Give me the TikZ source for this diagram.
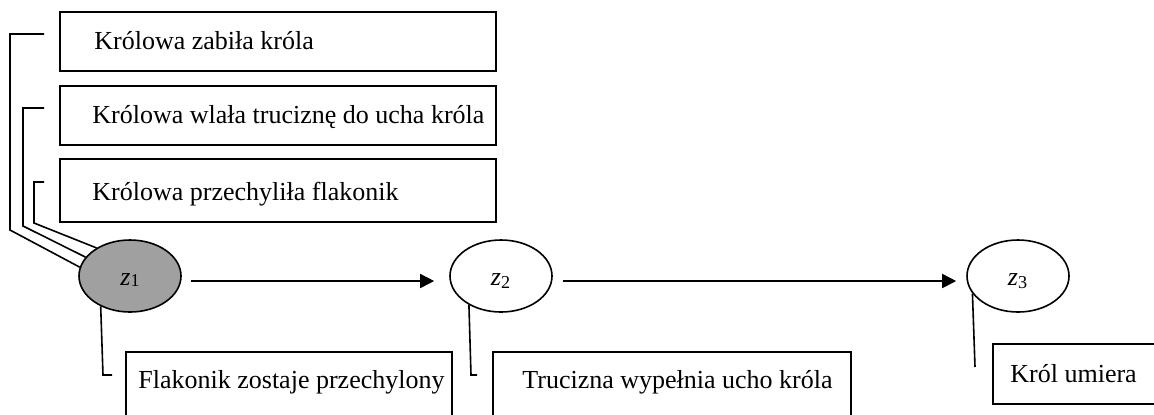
\documentclass[tikz,border=0pt]{standalone}
\usepackage{fontspec}
\setmainfont{Liberation Serif}
\usetikzlibrary{arrows.meta,calc,shapes.geometric}
\definecolor{stategray}{RGB}{160,160,160}
\newcommand{\zlab}[1]{\raisebox{-4.5pt}[0pt][0pt]{#1}}
\tikzset{
  lin/.style={line width=0.8pt},
  box/.style={draw,lin,rectangle,anchor=north west,inner sep=0pt},
  txt/.style={anchor=base west,inner sep=0pt,font=\fontsize{13}{15}\selectfont},
  state/.style={draw,lin,ellipse,minimum width=51pt,minimum height=36pt,inner sep=0pt,font=\fontsize{13}{15}\selectfont},
  arr/.style={lin,-{Triangle[length=7pt,width=7pt]}},
  conn/.style={lin,line join=miter}
}
\begin{document}
\begin{tikzpicture}[x=0.5pt,y=-0.5pt]
\useasboundingbox (0,0) rectangle (1154,414);
\clip (0,0) rectangle (1154,414);
% top boxes
\node[box,minimum width=218pt,minimum height=29.5pt] (b1) at (59,11) {};
\node[box,minimum width=218pt,minimum height=29.5pt] (b2) at (59,85) {};
\node[box,minimum width=218pt,minimum height=31.5pt] (b3) at (59,158) {};
\node[txt] (t1) at (94,49) {Królowa zabiła króla};
\node[txt] (t2) at (92,123) {Królowa wlała truciznę do ucha króla};
\node[txt] (t3) at (92,200) {Królowa przechyliła flakonik};
% bottom boxes
\node[box,minimum width=163pt,minimum height=50pt] (b4) at (125,351) {};
\node[box,minimum width=179pt,minimum height=50pt] (b5) at (492,351) {};
\node[box,minimum width=81pt,minimum height=30pt] (b6) at (992,343) {};
\node[txt] (t4) at (138,388) {Flakonik zostaje przechylony};
\node[txt] (t5) at (522,388) {Trucizna wypełnia ucho króla};
\node[txt] (t6) at (1010,382) {Król umiera};
% states
\node[state,fill=stategray] (z1) at (130,276) {\zlab{\textit{z}\raisebox{-0.1ex}{\fontsize{9}{10}\selectfont 1}}};
\node[state] (z2) at (501,276) {\zlab{\textit{z}\textsubscript{2}}};
\node[state] (z3) at (1018,276) {\zlab{\textit{z}\textsubscript{3}}};
% arrows
\draw[arr] ($(z1.east)+(9,5)$) -- ($(z2.west)+(-15,5)$);
\draw[arr] ($(z2.east)+(10,5)$) -- ($(z3.west)+(-10,5)$);
% callout lines
\coordinate (c1) at (44,34);
\coordinate (c2) at (44,108);
\coordinate (c3) at (44,182);
\coordinate (c4) at (112,375);
\coordinate (c5) at (477,375);
\coordinate (c6) at (975,367);
\draw[conn] (z1.170) -- (10,230) |- (c1);
\draw[conn] (z1.157) -- (23,226) |- (c2);
\draw[conn] (z1.140) -- (34,223) |- (c3);
\draw[conn] (z1.226) -- (103,375) -- (c4);
\draw[conn] (z2.222) -- (471,375) -- (c5);
\draw[conn] (z3.201) -- (c6);
\end{tikzpicture}
\end{document}
